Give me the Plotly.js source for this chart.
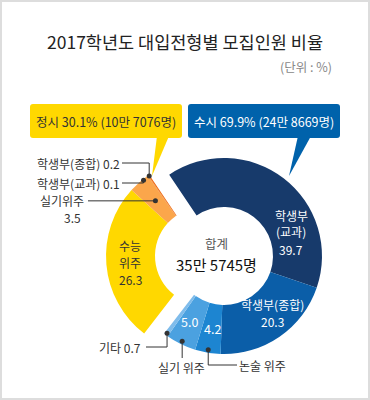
<!DOCTYPE html>
<html><head><meta charset="utf-8">
<script src="https://cdn.plot.ly/plotly-3.0.1.min.js"></script>
<style>html,body{margin:0;padding:0;background:#fff}#chart{width:370px;height:400px}</style>
</head><body><div id="chart"></div>
<script>
// ---- data ----
const chartTitle = '2017학년도 대입전형별 모집인원 비율';
const unitLabel = '(단위 : %)';
const susiCategories = ['학생부(교과)', '학생부(종합)', '논술 위주', '실기 위주', '기타'];
const susiValues = [39.7, 20.3, 4.2, 5.0, 0.7];
const jeongsiCategories = ['수능 위주', '실기 위주', '학생부(교과)', '학생부(종합)'];
const jeongsiValues = [26.3, 3.5, 0.1, 0.2];
const groupNames = ['수시', '정시'];
const groupShares = [69.9, 30.1];
const groupCounts = ['24만 8669명', '10만 7076명'];
const totalLabel = '합계';
const totalCount = '35만 5745명';

// ---- layout helpers ----
const W = 370, H = 400;
const X = px => px / W, Y = py => 1 - py / H;
const FONT = 'Noto Sans CJK KR, Noto Sans, sans-serif';
const ROT = -34;
const R = 98, CY = 256, CX_S = 224, CX_J = 204, HOLE = 0.5;
const sum = a => a.reduce((s, v) => s + v, 0);
const total = sum(susiValues) + sum(jeongsiValues);
const fmt = v => v.toFixed(1);

function polar(cx, cy, r, deg) {
  const a = deg * Math.PI / 180;
  return [cx + r * Math.sin(a), cy - r * Math.cos(a)];
}
function sliceAngles(values, offset) {
  let c = offset;
  return values.map(v => { const a0 = ROT + 360 * c / total; c += v; return [a0, ROT + 360 * c / total]; });
}
const mid = a => (a[0] + a[1]) / 2;
const susiAng = sliceAngles(susiValues, 0);
const jeongAng = sliceAngles(jeongsiValues, sum(susiValues));

const susiColors = ['#173A6B', '#0B5EA8', '#1D85D1', '#4BA1E0', '#7FBCEB', 'rgba(0,0,0,0)'];
const jeongColors = ['rgba(0,0,0,0)', '#FFD800', '#FBA64B', '#F2801F', '#EE6A12'];

const pieCommon = {
  type: 'pie', hole: HOLE, sort: false, direction: 'clockwise', rotation: ROT,
  textinfo: 'none', hoverinfo: 'skip', showlegend: false
};
const traces = [
  Object.assign({}, pieCommon, {
    labels: susiCategories.concat(['(정시 영역)']),
    values: susiValues.concat([sum(jeongsiValues)]),
    marker: { colors: susiColors, line: { width: 0 } },
    domain: { x: [X(CX_S - R), X(CX_S + R)], y: [Y(CY + R), Y(CY - R)] }
  }),
  Object.assign({}, pieCommon, {
    labels: ['(수시 영역)'].concat(jeongsiCategories),
    values: [sum(susiValues)].concat(jeongsiValues),
    marker: { colors: jeongColors, line: { width: 0 } },
    domain: { x: [X(CX_J - R), X(CX_J + R)], y: [Y(CY + R), Y(CY - R)] }
  })
];

// ---- shapes ----
function P(pts) { return pts.map((p, i) => (i ? 'L' : 'M') + X(p[0]) + ',' + Y(p[1])).join(' '); }
function roundRect(x0, y0, x1, y1, r) {
  const q = (a, b) => X(a) + ',' + Y(b);
  return 'M' + q(x0 + r, y0) + ' L' + q(x1 - r, y0) + ' Q' + q(x1, y0) + ' ' + q(x1, y0 + r) +
    ' L' + q(x1, y1 - r) + ' Q' + q(x1, y1) + ' ' + q(x1 - r, y1) +
    ' L' + q(x0 + r, y1) + ' Q' + q(x0, y1) + ' ' + q(x0, y1 - r) +
    ' L' + q(x0, y0 + r) + ' Q' + q(x0, y0) + ' ' + q(x0 + r, y0) + ' Z';
}
const YEL = '#FFD800', BLU = '#0062AB', INK = '#333333';
const shapes = [
  { type: 'rect', xref: 'paper', yref: 'paper', x0: X(1), x1: X(369), y0: Y(399), y1: Y(1), line: { color: '#DDDDDD', width: 2 }, layer: 'above' },
  { type: 'path', xref: 'paper', yref: 'paper', path: roundRect(30, 104, 182, 138, 3), fillcolor: YEL, line: { width: 0 }, layer: 'above' },
  { type: 'path', xref: 'paper', yref: 'paper', path: P([[157, 136], [152, 176], [169, 136]]) + ' Z', fillcolor: YEL, line: { width: 0 }, layer: 'above' },
  { type: 'path', xref: 'paper', yref: 'paper', path: roundRect(188, 104, 340, 138, 3), fillcolor: BLU, line: { width: 0 }, layer: 'above' },
  { type: 'path', xref: 'paper', yref: 'paper', path: P([[298, 136], [289, 176], [311, 136]]) + ' Z', fillcolor: BLU, line: { width: 0 }, layer: 'above' }
];

const dot02 = polar(CX_J, CY, 97, jeongAng[3][1] - 0.4);
const dot01 = polar(CX_J, CY, 97, jeongAng[2][0] - 3.5);
const dot35 = polar(CX_J, CY, R * (1 + HOLE) / 2, mid(jeongAng[1]));
const dotEtc = polar(CX_S, CY, 96, mid(susiAng[4]));
const dotSil = polar(CX_S, CY, 95, mid(susiAng[3]));
const dotNon = polar(CX_S, CY, 95, mid(susiAng[2]));

const leaders = [
  P([[122, 163], [dot02[0], 163], dot02]),
  P([[122, 183], [dot01[0], 183], dot01]),
  P([[88, dot35[1]], dot35]),
  P([[146, 347], [dotEtc[0], 347], dotEtc]),
  P([dotSil, [dotSil[0], 358]]),
  P([dotNon, [dotNon[0], 365], [237, 365]])
];
leaders.forEach(p => shapes.push({ type: 'path', xref: 'paper', yref: 'paper', path: p, line: { color: INK, width: 1 }, layer: 'above' }));
[dot02, dot01, dot35, dotEtc, dotSil, dotNon].forEach(d => shapes.push({
  type: 'circle', xref: 'paper', yref: 'paper', x0: X(d[0] - 2.5), x1: X(d[0] + 2.5), y0: Y(d[1] + 2.5), y1: Y(d[1] - 2.5),
  fillcolor: INK, line: { width: 0 }, layer: 'above'
}));

// ---- annotations ----
function ann(text, x, y, size, color, xanchor) {
  return { text: text, x: X(x), y: Y(y), xref: 'paper', yref: 'paper', showarrow: false, borderpad: 0,
    xanchor: xanchor || 'center', yanchor: 'middle', font: { family: FONT, size: size, color: color } };
}
// several lines stacked as separate single-line texts
function stack(lines, x, yCenter, gap, size, color, xanchor) {
  const y0 = yCenter - gap * (lines.length - 1) / 2;
  return lines.map((t, i) => ann(t, x, y0 + i * gap, size, color, xanchor));
}
const annotations = [
  ann(chartTitle, 185, 41, 17.5, '#222222'),
  ann(unitLabel, 333, 66, 12.5, '#888888', 'right'),
  ann(`${groupNames[1]} ${fmt(groupShares[1])}% (${groupCounts[1]})`, 106, 121, 12.5, '#333333'),
  ann(`${groupNames[0]} ${fmt(groupShares[0])}% (${groupCounts[0]})`, 264, 121, 12.5, '#FFFFFF'),
  ann(totalLabel, 216, 243.5, 12.5, '#555555'),
  ann(totalCount, 216, 264, 15, '#111111'),
  ...stack(['학생부', '(교과)', fmt(susiValues[0])], 291, 232, 17, 12, '#FFFFFF'),
  ...stack([susiCategories[1], fmt(susiValues[1])], 272, 313, 17, 12, '#FFFFFF'),
  ann(fmt(susiValues[2]), 212, 328, 12.5, '#FFFFFF'),
  ann(fmt(susiValues[3]), 189, 321, 12.5, '#FFFFFF'),
  ...stack(['수능', '위주', fmt(jeongsiValues[0])], 130, 262, 17, 12, '#333333'),
  ann(jeongsiCategories[3] + ' ' + fmt(jeongsiValues[3]), 121, 163, 12, INK, 'right'),
  ann(jeongsiCategories[2] + ' ' + fmt(jeongsiValues[2]), 121, 183, 12, INK, 'right'),
  ann('실기위주', 85, 200, 12, INK, 'right'),
  ann(fmt(jeongsiValues[1]), 82, 217, 12, INK, 'right'),
  ann(susiCategories[4] + ' ' + fmt(susiValues[4]), 142, 347, 12, INK, 'right'),
  ann('실기 위주', 181, 367, 12, INK),
  ann(susiCategories[2], 238, 365, 12, INK, 'left')
];

const layout = {
  width: W, height: H, margin: { l: 0, r: 0, t: 0, b: 0 },
  paper_bgcolor: '#FFFFFF', plot_bgcolor: '#FFFFFF',
  showlegend: false, shapes: shapes, annotations: annotations,
  font: { family: FONT }
};
Plotly.newPlot('chart', traces, layout, { displayModeBar: false, staticPlot: true });
</script>
</body></html>
